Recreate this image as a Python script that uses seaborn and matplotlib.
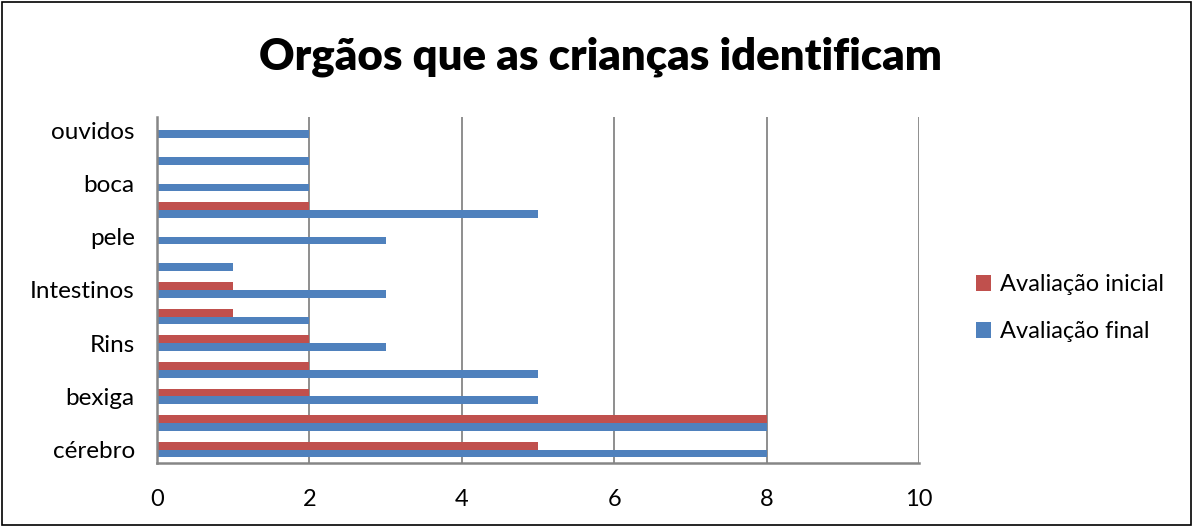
import pandas as pd
import numpy as np
import matplotlib
matplotlib.use("Agg")
import matplotlib.pyplot as plt
from matplotlib.patches import Rectangle
import seaborn as sns

# categories listed top to bottom, only every other one carries a visible label
organs = ["ouvidos", "", "boca", "", "pele", "", "Intestinos", "", "Rins", "", "bexiga", "", "cérebro"]
inicial = [0, 0, 0, 2, 0, 0, 1, 1, 2, 2, 2, 8, 5]
final = [2, 2, 2, 5, 3, 1, 3, 2, 3, 5, 5, 8, 8]
series = ["Avaliação inicial", "Avaliação final"]
colors = ["#C0504D", "#4F81BD"]
x_ticks = [0, 2, 4, 6, 8, 10]

pos = [str(i) for i in range(len(organs))]
df = pd.DataFrame({
    "pos": pos * 2,
    "valor": inicial + final,
    "serie": [series[0]] * len(pos) + [series[1]] * len(pos),
})

sns.set_style("white")
plt.rcParams["font.family"] = ["Lato", "DejaVu Sans"]
plt.rcParams["text.color"] = "black"
plt.rcParams["xtick.labelcolor"] = "black"
plt.rcParams["ytick.labelcolor"] = "black"

fig = plt.figure(figsize=(11.93, 5.26), dpi=100)
ax = fig.add_axes([0.1316, 0.1198, 0.6387, 0.6578])

sns.barplot(data=df, x="valor", y="pos", hue="serie", order=pos, hue_order=series,
            palette=colors, width=0.58, orient="h", linewidth=0, saturation=1, ax=ax)

ax.set_xlim(0, 10)
ax.set_ylim(len(organs) - 0.5, -0.5)
ax.set_xticks(x_ticks)
ax.set_xticklabels([str(t) for t in x_ticks], fontsize=17)
ax.set_yticks(range(len(organs)))
ax.set_yticklabels(organs, fontsize=17.5)
ax.set_yticks(np.arange(-0.5, len(organs)), minor=True)
ax.tick_params(axis="y", which="major", length=0, pad=16)
ax.tick_params(axis="y", which="minor", length=6, width=1.5, color="#868686", direction="out")
ax.tick_params(axis="x", length=8, width=1.2, color="#868686", pad=11, direction="out")
ax.set_xlabel("")
ax.set_ylabel("")

ax.grid(axis="x", color="#868686", linewidth=1.3)
ax.set_axisbelow(True)
for side in ["top", "right"]:
    ax.spines[side].set_visible(False)
for side in ["left", "bottom"]:
    ax.spines[side].set_color("#868686")
    ax.spines[side].set_linewidth(1.8)

ax.legend(loc="center left", bbox_to_anchor=(0.8, 0.414), bbox_transform=fig.transFigure,
          frameon=False, fontsize=17, handlelength=0.65, handleheight=0.65,
          handletextpad=0.4, labelspacing=1.1)

fig.text(0.503, 0.892, "Orgãos que as crianças identificam", ha="center", va="center",
         fontsize=31.5, fontweight="heavy", color="black")

fig.patches.append(Rectangle((0.002, 0.002), 0.996, 0.994, transform=fig.transFigure,
                             fill=False, edgecolor="black", linewidth=1.2))

fig.savefig("out.png", dpi=100)
